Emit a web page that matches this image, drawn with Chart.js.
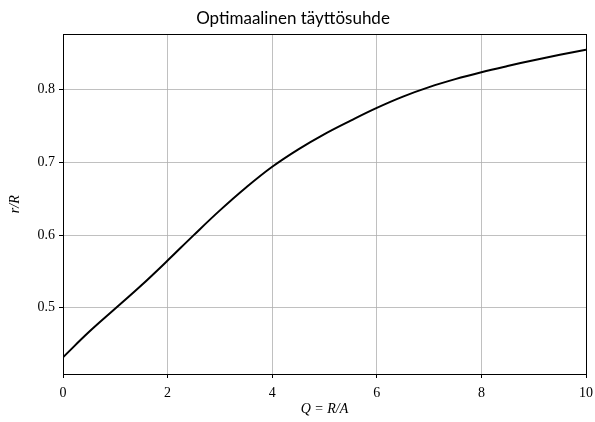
<!DOCTYPE html>
<html>
<head>
<meta charset="utf-8">
<script src="https://cdn.jsdelivr.net/npm/chart.js@4/dist/chart.umd.min.js"></script>
<style>
html,body{margin:0;padding:0;background:#fff;}
#wrap{width:595px;height:422px;}
</style>
</head>
<body>
<div id="wrap"><canvas id="c" width="595" height="422"></canvas></div>
<script>
const xValues = [0, 0.5, 1, 1.5, 2, 2.5, 3, 3.5, 4, 4.5, 5, 5.5, 6, 6.5, 7, 7.5, 8, 8.5, 9, 9.5, 10];
const yValues = [0.432, 0.467, 0.499, 0.531, 0.565, 0.600, 0.634, 0.6655, 0.694, 0.718, 0.739, 0.7575, 0.775, 0.7905, 0.8035, 0.8145, 0.824, 0.8325, 0.8405, 0.848, 0.855];
const xTicks = [0, 2, 4, 6, 8, 10];
const yTicks = [0.5, 0.6, 0.7, 0.8];
const titleText = 'Optimaalinen täyttösuhde';
const xTitle = 'Q = R/A';
const yTitle = 'r/R';

const points = xValues.map((x, i) => ({x: x, y: yValues[i]}));

const frame = {
  id: 'frame',
  afterDraw(chart) {
    const a = chart.chartArea, ctx = chart.ctx;
    ctx.save();
    ctx.strokeStyle = '#000';
    ctx.lineWidth = 1;
    ctx.strokeRect(Math.round(a.left) + 0.5, Math.round(a.top) + 0.5, Math.round(a.right - a.left), Math.round(a.bottom - a.top));
    ctx.restore();
  }
};

const tickFont = {family: "'Liberation Serif', 'DejaVu Serif', serif", size: 14};

new Chart(document.getElementById('c'), {
  type: 'line',
  data: {
    datasets: [{
      data: points,
      borderColor: '#000',
      borderWidth: 2,
      pointRadius: 0,
      tension: 0.4,
      fill: false
    }]
  },
  options: {
    responsive: false,
    animation: false,
    devicePixelRatio: 1,
    layout: {padding: {left: 0, right: 9, top: 0, bottom: 0}},
    plugins: {
      legend: {display: false},
      tooltip: {enabled: false},
      title: {
        display: true,
        text: titleText,
        color: '#000',
        font: {family: "Lato, 'Open Sans', sans-serif", size: 17, weight: 'normal', lineHeight: 1.2},
        padding: {top: 8, bottom: 6}
      }
    },
    scales: {
      x: {
        type: 'linear',
        min: 0, max: 10,
        afterBuildTicks(s) { s.ticks = xTicks.map(v => ({value: v})); },
        afterFit(s) { s.height = 48; s.paddingLeft = 0; s.paddingRight = 0; },
        ticks: {color: '#000', font: tickFont, padding: 7, maxRotation: 0, callback: v => String(v)},
        grid: {color: '#b0b0b0', lineWidth: 0.8, tickLength: 4, tickColor: '#000', tickWidth: 1},
        border: {color: '#000', width: 1},
        title: {display: true, text: xTitle, color: '#000', font: {family: "'Liberation Serif', 'DejaVu Serif', serif", size: 14, style: 'italic'}, padding: {top: 0, bottom: 4}}
      },
      y: {
        type: 'linear',
        min: 0.409, max: 0.876,
        afterBuildTicks(s) { s.ticks = yTicks.map(v => ({value: v})); },
        afterFit(s) { s.width = 63; },
        ticks: {color: '#000', font: tickFont, padding: 4, callback: v => v.toFixed(1)},
        grid: {color: '#b0b0b0', lineWidth: 0.8, tickLength: 4, tickColor: '#000', tickWidth: 1},
        border: {color: '#000', width: 1},
        title: {display: true, text: yTitle, color: '#000', font: {family: "'Liberation Serif', 'DejaVu Serif', serif", size: 14, style: 'italic'}, padding: {top: 7, bottom: 4}}
      }
    }
  },
  plugins: [frame]
});
</script>
</body>
</html>
